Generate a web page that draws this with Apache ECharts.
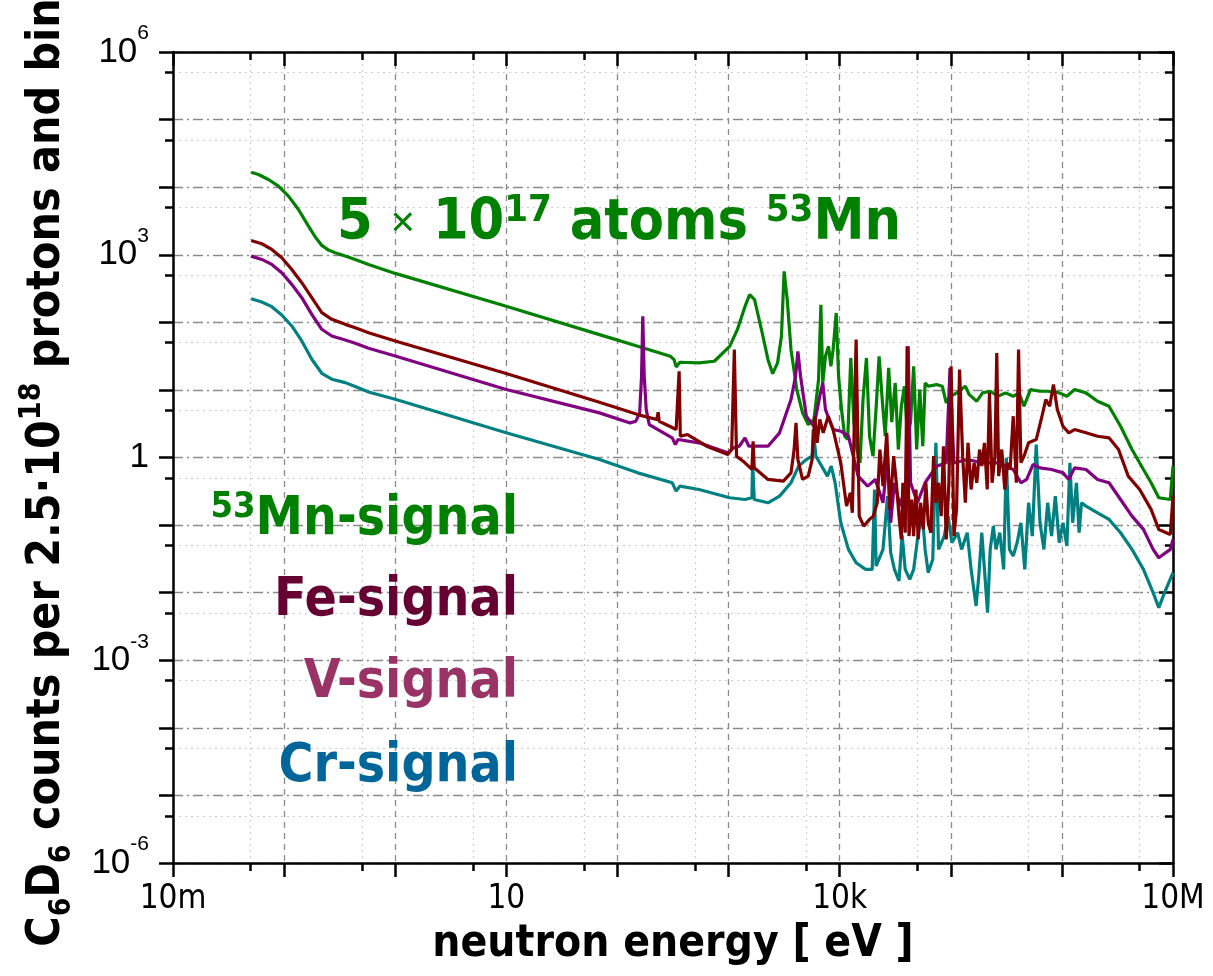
<!DOCTYPE html>
<html><head><meta charset="utf-8">
<script src="https://cdn.jsdelivr.net/npm/echarts@6/dist/echarts.min.js"></script>
<style>html,body{margin:0;padding:0;background:#fff}#c{width:1213px;height:976px}</style>
</head><body><div id="c"></div>
<script>
// All points: [log10(neutron energy / eV), log10(C6D6 counts)]
const mnPoints = [
[-1.297,4.222],[-1.231,4.187],[-1.141,4.113],[-1.051,4.015],[-0.961,3.867],[-0.871,3.670],[-0.781,3.424],[-0.721,3.266],[-0.661,3.138],[-0.601,3.069],[-0.541,3.030],[-0.450,2.980],[-0.360,2.931],[-0.240,2.857],[0.000,2.724],[0.991,2.241],[1.838,1.818],[2.183,1.645],[2.476,1.498],[2.510,1.448],[2.528,1.340],[2.562,1.409],[2.734,1.399],[2.872,1.424],[3.010,1.645],[3.079,1.892],[3.148,2.236],[3.190,2.409],[3.234,2.335],[3.303,1.842],[3.355,1.448],[3.397,1.241],[3.441,1.399],[3.476,1.793],[3.500,2.754],[3.528,2.335],[3.562,1.596],[3.614,1.005],[3.666,0.660],[3.717,0.488],[3.769,0.562],[3.810,1.153],[3.831,2.261],[3.848,1.103],[3.872,1.498],[3.900,1.645],[3.921,1.350],[3.941,1.596],[3.969,2.138],[3.990,1.202],[4.017,0.709],[4.045,0.315],[4.072,0.266],[4.100,1.473],[4.128,0.522],[4.155,0.118],[4.183,-0.079],[4.210,0.857],[4.241,1.473],[4.269,0.315],[4.300,0.020],[4.328,0.734],[4.355,1.498],[4.383,0.857],[4.410,0.315],[4.441,1.325],[4.469,0.522],[4.500,1.103],[4.528,0.118],[4.555,0.759],[4.583,1.054],[4.610,0.315],[4.638,0.522],[4.666,1.350],[4.693,0.118],[4.721,1.005],[4.748,0.167],[4.769,1.103],[4.797,1.054],[4.872,1.079],[4.924,1.054],[4.959,0.808],[4.993,0.906],[5.045,0.946],[5.131,1.054],[5.166,0.931],[5.234,0.833],[5.286,0.956],[5.355,0.980],[5.424,0.906],[5.493,0.956],[5.562,0.906],[5.614,0.956],[5.659,0.759],[5.717,1.005],[5.803,0.980],[5.872,0.980],[5.976,0.956],[6.045,0.906],[6.114,1.005],[6.217,0.956],[6.321,0.833],[6.424,0.759],[6.528,0.463],[6.631,0.118],[6.734,-0.177],[6.803,-0.374],[6.872,-0.596],[6.976,-0.621],[7.000,-0.128]
];
const fePoints = [
[-1.297,3.212],[-1.201,3.163],[-1.111,3.079],[-1.021,2.956],[-0.931,2.783],[-0.841,2.586],[-0.751,2.365],[-0.661,2.143],[-0.571,2.044],[-0.450,1.970],[-0.360,1.921],[-0.240,1.847],[0.000,1.724],[0.991,1.246],[1.838,0.818],[2.183,0.635],[2.355,0.562],[2.366,0.670],[2.376,0.537],[2.528,0.414],[2.555,1.276],[2.566,0.315],[2.631,0.340],[2.803,0.167],[2.993,0.044],[3.028,0.118],[3.052,1.596],[3.072,0.020],[3.148,-0.079],[3.210,-0.177],[3.221,0.241],[3.231,-0.153],[3.355,-0.325],[3.493,-0.350],[3.562,-0.227],[3.590,0.118],[3.607,0.512],[3.624,-0.030],[3.666,-0.325],[3.717,-0.276],[3.752,-0.030],[3.776,0.611],[3.797,0.217],[3.821,0.562],[3.852,0.365],[3.897,0.611],[3.941,0.414],[4.010,-0.079],[4.062,-0.719],[4.097,-0.522],[4.114,-0.818],[4.148,1.744],[4.176,-0.867],[4.217,-1.015],[4.269,-0.916],[4.303,-0.867],[4.338,-0.670],[4.362,0.118],[4.390,-0.424],[4.424,0.365],[4.452,-0.768],[4.486,0.020],[4.510,-0.374],[4.534,-0.867],[4.555,-1.212],[4.569,-0.374],[4.590,-1.113],[4.607,1.645],[4.624,-1.163],[4.648,-0.621],[4.666,-1.163],[4.686,-0.473],[4.707,-1.212],[4.728,-0.670],[4.752,-1.064],[4.776,-0.374],[4.797,-0.966],[4.821,-1.113],[4.845,0.020],[4.866,-0.670],[4.890,-0.374],[4.914,-0.867],[4.934,0.167],[4.959,-1.212],[4.983,-0.374],[5.003,1.350],[5.028,-1.163],[5.052,-0.768],[5.079,1.300],[5.107,0.020],[5.131,-0.670],[5.155,0.217],[5.183,-0.473],[5.210,-0.079],[5.234,-0.374],[5.259,0.118],[5.279,-0.128],[5.303,0.217],[5.328,-0.473],[5.348,0.956],[5.372,-0.374],[5.397,0.020],[5.414,1.547],[5.431,-0.276],[5.459,0.118],[5.486,-0.473],[5.510,-0.079],[5.534,-0.177],[5.562,0.611],[5.590,-0.374],[5.610,1.596],[5.631,-0.079],[5.659,0.020],[5.700,0.217],[5.769,0.266],[5.821,0.611],[5.855,0.857],[5.890,0.759],[5.924,1.079],[5.959,0.710],[6.010,0.463],[6.062,0.365],[6.114,0.414],[6.217,0.365],[6.321,0.315],[6.424,0.291],[6.510,0.118],[6.597,-0.276],[6.700,-0.473],[6.803,-0.768],[6.872,-1.064],[6.976,-1.138],[7.000,-0.571]
];
const vPoints = [
[-1.297,2.980],[-1.201,2.931],[-1.111,2.857],[-1.021,2.734],[-0.931,2.562],[-0.841,2.365],[-0.751,2.118],[-0.661,1.897],[-0.571,1.798],[-0.450,1.739],[-0.360,1.690],[-0.240,1.616],[0.000,1.502],[0.991,1.010],[1.838,0.660],[2.114,0.512],[2.166,0.537],[2.200,0.660],[2.217,1.202],[2.228,2.089],[2.241,1.202],[2.259,0.709],[2.286,0.488],[2.493,0.291],[2.521,0.192],[2.545,0.266],[2.734,0.217],[2.993,0.069],[3.045,0.143],[3.097,0.167],[3.148,0.291],[3.183,0.167],[3.355,0.167],[3.459,0.365],[3.562,0.857],[3.603,1.202],[3.624,1.571],[3.648,1.202],[3.700,0.611],[3.769,0.463],[3.821,0.906],[3.848,1.103],[3.872,0.709],[3.941,0.414],[4.010,0.389],[4.079,0.315],[4.166,-0.276],[4.252,-0.424],[4.321,-0.325],[4.390,-0.670],[4.431,0.020],[4.459,-0.966],[4.493,-0.374],[4.545,-0.719],[4.597,-0.374],[4.617,1.645],[4.638,-0.374],[4.700,-0.670],[4.769,-0.374],[4.872,-0.128],[4.959,-0.079],[4.993,1.325],[5.028,-0.079],[5.148,-0.030],[5.286,-0.079],[5.424,-0.079],[5.562,-0.177],[5.631,-0.374],[5.683,-0.325],[5.741,-0.103],[5.803,-0.153],[5.907,-0.177],[6.010,-0.227],[6.062,-0.325],[6.114,-0.153],[6.217,-0.177],[6.321,-0.325],[6.424,-0.374],[6.528,-0.621],[6.631,-0.867],[6.734,-1.064],[6.821,-1.360],[6.872,-1.483],[6.976,-1.360],[7.000,-1.212]
];
const crPoints = [
[-1.297,2.350],[-1.201,2.300],[-1.111,2.232],[-1.021,2.108],[-0.931,1.946],[-0.841,1.724],[-0.751,1.453],[-0.661,1.246],[-0.571,1.158],[-0.450,1.108],[-0.360,1.049],[-0.240,0.970],[0.000,0.862],[0.991,0.369],[1.838,-0.030],[2.183,-0.227],[2.493,-0.374],[2.528,-0.498],[2.562,-0.424],[2.734,-0.473],[3.010,-0.596],[3.148,-0.621],[3.210,-0.596],[3.217,-0.079],[3.231,-0.621],[3.355,-0.670],[3.459,-0.571],[3.562,-0.374],[3.631,-0.128],[3.700,-0.030],[3.752,0.020],[3.762,0.414],[3.786,0.020],[3.838,-0.128],[3.890,-0.276],[3.924,-0.128],[3.959,-0.374],[4.010,-0.966],[4.079,-1.360],[4.148,-1.557],[4.234,-1.655],[4.293,-1.655],[4.314,-0.473],[4.328,-1.606],[4.390,-1.360],[4.431,-0.571],[4.459,-1.409],[4.493,-1.655],[4.534,-1.827],[4.562,-1.148],[4.590,-1.655],[4.631,-1.803],[4.666,-1.655],[4.700,-1.212],[4.741,-0.768],[4.769,-1.360],[4.797,-1.704],[4.838,-1.507],[4.866,0.217],[4.890,-1.360],[4.941,-1.163],[4.976,-0.867],[5.010,-1.261],[5.062,-1.113],[5.097,-1.360],[5.148,-1.113],[5.183,-1.655],[5.228,-2.197],[5.252,-1.754],[5.279,-1.113],[5.303,-1.655],[5.331,-2.296],[5.355,-1.360],[5.383,-1.015],[5.407,-1.360],[5.441,-1.113],[5.476,-1.655],[5.500,-0.005],[5.528,-1.360],[5.562,-1.458],[5.597,-1.261],[5.631,-0.966],[5.666,-1.655],[5.700,-0.670],[5.734,-1.163],[5.769,0.192],[5.803,-0.966],[5.838,-1.360],[5.872,-0.670],[5.907,-1.163],[5.941,-0.571],[5.976,-1.261],[6.010,-0.966],[6.045,-1.310],[6.072,-0.079],[6.097,-0.966],[6.131,-0.374],[6.155,-1.113],[6.176,-0.670],[6.217,-0.719],[6.321,-0.818],[6.424,-0.916],[6.528,-1.113],[6.631,-1.360],[6.734,-1.655],[6.821,-2.000],[6.872,-2.222],[6.924,-2.000],[7.000,-1.704]
];
const seriesNames = ['53Mn-signal', 'Fe-signal', 'V-signal', 'Cr-signal'];
const xTickLabels = {'-2': '10m', '1': '10', '4': '10k', '7': '10M'};
const yTickLabels = {'-6': '{b|10}{s|-6}', '-3': '{b|10}{s|-3}', '0': '{b|1}', '3': '{b|10}{s|3}', '6': '{b|10}{s|6}'};
const xDecades = [-2, -1, 0, 1, 2, 3, 4, 5, 6];
const yDecades = [-6, -5, -4, -3, -2, -1, 0, 1, 2, 3, 4, 5];

const xMinor = xDecades.map(n => n + Math.log10(5));
const yMinor = yDecades.map(n => n + Math.log10(5));
const toData = pts => pts.map(p => [Math.pow(10, p[0]), Math.pow(10, p[1])]);

const COND = "'Liberation Sans Narrow','DejaVu Sans Condensed','Roboto Condensed','Liberation Sans',sans-serif";
const SANS = "'Liberation Sans',Arial,sans-serif";
const BLACK = '#000';
const AXW = 2.5;
const LW = 3.2;

function decoAxis(dim, pos, major, inside, extra) {
  const isX = dim === 'x';
  const base = {
    type: 'value', gridIndex: 0, position: pos,
    min: isX ? -2 : -6, max: isX ? 7 : 6,
    axisLine: {show: major, onZero: false, lineStyle: {color: BLACK, width: AXW}},
    axisTick: {show: true, inside: inside, length: major ? 14 : 8, lineStyle: {color: BLACK, width: AXW}},
    axisLabel: {show: false},
    splitLine: {show: false},
    silent: true
  };
  if (major) base.interval = 1;
  else base.axisTick.customValues = isX ? xMinor : yMinor;
  return Object.assign(base, extra || {});
}

const chart = echarts.init(document.getElementById('c'), null, {renderer: 'canvas'});
chart.setOption({
  animation: false,
  backgroundColor: '#fff',
  grid: {left: 173, right: 40, top: 52, bottom: 113, outerBoundsMode: 'none', containLabel: false},
  xAxis: [
    {type: 'log', logBase: 10, min: 0.01, max: 1e7, position: 'bottom',
     axisLine: {show: false, onZero: false}, axisTick: {show: false}, axisLabel: {show: false}, splitLine: {show: false},
     name: 'neutron energy [ eV ]', nameLocation: 'middle', nameGap: 60,
     nameTextStyle: {fontFamily: COND, fontWeight: 'bold', fontSize: 44, color: BLACK}},
    decoAxis('x', 'bottom', true, false, {
      axisLabel: {show: true, margin: 20, fontFamily: COND, fontSize: 33, color: BLACK,
        formatter: v => xTickLabels[String(Math.round(v))] || ''},
      splitLine: {show: true, lineStyle: {color: '#8a8a8a', width: 1.3, type: [6, 5]}}
    }),
    decoAxis('x', 'bottom', false, false, {
      splitLine: {show: true, lineStyle: {color: '#cfcfcf', width: 1.2, type: [2, 4]}}
    }),
    decoAxis('x', 'top', true, true),
    decoAxis('x', 'top', false, true)
  ],
  yAxis: [
    {type: 'log', logBase: 10, min: 1e-6, max: 1e6, position: 'left',
     axisLine: {show: false, onZero: false}, axisTick: {show: false}, axisLabel: {show: false}, splitLine: {show: false},
     name: 'C{sub|6}D{sub|6} counts per 2.5·10{sup|18} protons and bin', nameLocation: 'middle', nameGap: 96,
     nameTextStyle: {fontFamily: COND, fontWeight: 'bold', fontSize: 46, color: BLACK, lineHeight: 60,
       padding: [0, 30, 0, 0],
       rich: {
         sub: {fontFamily: COND, fontWeight: 'bold', fontSize: 30, color: BLACK, lineHeight: 28, verticalAlign: 'bottom'},
         sup: {fontFamily: COND, fontWeight: 'bold', fontSize: 30, color: BLACK, lineHeight: 28, verticalAlign: 'top'}
       }}},
    decoAxis('y', 'left', true, false, {
      axisLabel: {show: true, margin: 24, fontFamily: SANS, fontSize: 30, lineHeight: 56, color: BLACK,
        formatter: v => yTickLabels[String(Math.round(v))] || '',
        rich: {
          b: {fontFamily: SANS, fontSize: 35, lineHeight: 58, color: BLACK},
          s: {fontFamily: SANS, fontSize: 21, lineHeight: 24, verticalAlign: 'top', color: BLACK}
        }},
      splitLine: {show: true, lineStyle: {color: '#8a8a8a', width: 1.3, type: [10, 4, 2, 4]}}
    }),
    decoAxis('y', 'left', false, false, {
      splitLine: {show: true, lineStyle: {color: '#cfcfcf', width: 1.2, type: [2, 4]}}
    }),
    decoAxis('y', 'right', true, true),
    decoAxis('y', 'right', false, true)
  ],
  series: [
    {name: seriesNames[0], type: 'line', xAxisIndex: 0, yAxisIndex: 0, data: toData(mnPoints), showSymbol: false, symbol: 'none', lineStyle: {color: '#008000', width: LW}, itemStyle: {color: '#008000'}, z: 3},
    {name: seriesNames[3], type: 'line', xAxisIndex: 0, yAxisIndex: 0, data: toData(crPoints), showSymbol: false, symbol: 'none', lineStyle: {color: '#008080', width: LW}, itemStyle: {color: '#008080'}, z: 3},
    {name: seriesNames[2], type: 'line', xAxisIndex: 0, yAxisIndex: 0, data: toData(vPoints), showSymbol: false, symbol: 'none', lineStyle: {color: '#800080', width: LW}, itemStyle: {color: '#800080'}, z: 3},
    {name: seriesNames[1], type: 'line', xAxisIndex: 0, yAxisIndex: 0, data: toData(fePoints), showSymbol: false, symbol: 'none', lineStyle: {color: '#800000', width: LW}, itemStyle: {color: '#800000'}, z: 3}
  ],
  graphic: [
    {type: 'text', x: 337, y: 224, z: 10, style: {
      text: '5 {x|×} 10{s|17} atoms {s|53}Mn', fill: '#008000', align: 'left', verticalAlign: 'middle',
      fontFamily: COND, fontWeight: 'bold', fontSize: 57, lineHeight: 64,
      rich: {s: {fontFamily: COND, fontWeight: 'bold', fontSize: 38, lineHeight: 40, verticalAlign: 'top', fill: '#008000'},
             x: {fontFamily: SANS, fontWeight: 'normal', fontSize: 42, lineHeight: 64, fill: '#008000'}}}},
    {type: 'text', x: 518, y: 520, z: 10, style: {
      text: '{s|53}Mn-signal', fill: '#008000', align: 'right', verticalAlign: 'middle',
      fontFamily: COND, fontWeight: 'bold', fontSize: 53, lineHeight: 60,
      rich: {s: {fontFamily: COND, fontWeight: 'bold', fontSize: 36, lineHeight: 38, verticalAlign: 'top', fill: '#008000'}}}},
    {type: 'text', x: 518, y: 601, z: 10, style: {
      text: 'Fe-signal', fill: '#660033', align: 'right', verticalAlign: 'middle',
      fontFamily: COND, fontWeight: 'bold', fontSize: 53}},
    {type: 'text', x: 518, y: 683, z: 10, style: {
      text: 'V-signal', fill: '#993366', align: 'right', verticalAlign: 'middle',
      fontFamily: COND, fontWeight: 'bold', fontSize: 53}},
    {type: 'text', x: 518, y: 767, z: 10, style: {
      text: 'Cr-signal', fill: '#006699', align: 'right', verticalAlign: 'middle',
      fontFamily: COND, fontWeight: 'bold', fontSize: 53}}
  ]
});
</script>
</body></html>
